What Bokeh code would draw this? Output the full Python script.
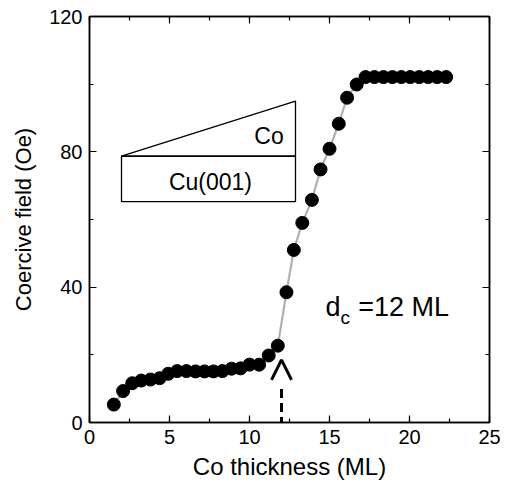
from bokeh.plotting import figure
from bokeh.models import (LinearAxis, SingleIntervalTicker, Range1d, Label, Arrow, OpenHead,
                          CustomJSTickFormatter)
from bokeh.embed import file_html
from bokeh.resources import INLINE

# ---- data ----
thickness = [1.52, 2.10, 2.67, 3.23, 3.81, 4.38, 4.92, 5.48, 6.06, 6.63, 7.19, 7.75,
             8.31, 8.88, 9.44, 10.0, 10.6, 11.2, 11.77, 12.31, 12.77, 13.3, 13.9,
             14.44, 15.0, 15.58, 16.1, 16.7, 17.25, 17.81, 18.37, 18.93, 19.49,
             20.05, 20.61, 21.17, 21.73, 22.29]
coercive = [5.3, 9.3, 11.6, 12.4, 12.7, 13.1, 14.4, 15.2, 15.2, 15.1, 15.1, 15.1,
            15.2, 15.9, 16.0, 17.1, 17.1, 19.8, 22.7, 38.5, 51.0, 59.0, 65.8,
            74.8, 80.9, 88.3, 96.0, 99.9, 102.1, 102.1, 102.1, 102.1, 102.1,
            102.1, 102.1, 102.1, 102.1, 102.1]
d_c = 12

# inset sketch (wedge of Co on Cu(001)) in data units
cu_box = dict(left=2.0, right=12.875, bottom=65.3, top=78.7)
co_wedge_x = [2.0, 12.875, 12.875]
co_wedge_y = [78.7, 95.0, 78.7]

FONT = "Liberation Sans"

p = figure(width=507, height=485, output_backend="svg", toolbar_location=None,
           x_range=Range1d(0, 25), y_range=Range1d(0, 120),
           min_border_left=89, min_border_right=18, min_border_top=16,
           min_border_bottom=63)
p.xgrid.visible = False
p.ygrid.visible = False
p.outline_line_color = "black"
p.outline_line_width = 1.5
p.background_fill_color = "white"
p.border_fill_color = "white"

xt = SingleIntervalTicker(interval=5, num_minor_ticks=2)
yt = SingleIntervalTicker(interval=40, num_minor_ticks=2)
p.xaxis.ticker = xt
p.yaxis.ticker = yt

for ax in (p.xaxis[0], p.yaxis[0]):
    ax.major_tick_in = 7
    ax.major_tick_out = 0
    ax.minor_tick_in = 4
    ax.minor_tick_out = 0
    ax.axis_line_width = 1.5
    ax.axis_line_color = "black"
    ax.major_tick_line_width = 1.2
    ax.minor_tick_line_width = 1.2
    ax.major_label_text_font = FONT
    ax.major_label_text_font_size = "20px"
    ax.major_label_text_color = "black"
    ax.axis_label_text_font = FONT
    ax.axis_label_text_font_style = "normal"
    ax.axis_label_text_color = "black"
    ax.major_label_standoff = 7

p.xaxis.axis_label = "Co thickness (ML)"
p.yaxis.axis_label = "Coercive field (Oe)"
p.xaxis.axis_label_text_font_size = "24px"
p.yaxis.axis_label_text_font_size = "22px"
p.xaxis.axis_label_standoff = 6
p.yaxis.axis_label_standoff = 10

blank = CustomJSTickFormatter(code="return ''")
for loc, tk in (("above", xt), ("right", yt)):
    ax = LinearAxis(ticker=tk, formatter=blank)
    ax.major_tick_in = 7
    ax.major_tick_out = 0
    ax.minor_tick_in = 4
    ax.minor_tick_out = 0
    ax.axis_line_width = 1.5
    ax.axis_line_color = "black"
    ax.major_tick_line_width = 1.2
    ax.minor_tick_line_width = 1.2
    ax.major_label_standoff = 0
    p.add_layout(ax, loc)

# connecting line and markers
p.line(thickness, coercive, line_color="#b0b0b0", line_width=2.2)
p.scatter(thickness, coercive, size=13, marker="circle",
          fill_color="black", line_color="black")

# inset sketch
p.quad(left=[cu_box["left"]], right=[cu_box["right"]],
       bottom=[cu_box["bottom"]], top=[cu_box["top"]],
       fill_color=None, line_color="black", line_width=1.3)
p.patch(co_wedge_x, co_wedge_y, fill_color=None, line_color="black", line_width=1.3)
p.add_layout(Label(x=12.14, y=84.8, text="Co", text_align="right", text_color="black",
                   text_baseline="middle", text_font=FONT, text_font_size="23px"))
p.add_layout(Label(x=7.56, y=71.2, text="Cu(001)", text_align="center", text_color="black",
                   text_baseline="middle", text_font=FONT, text_font_size="23px"))

# critical thickness annotation
p.add_layout(Label(x=14.75, y=34.0, text="d", text_baseline="middle", text_color="black",
                   text_font=FONT, text_font_size="27px"))
p.add_layout(Label(x=15.69, y=31.1, text="c", text_baseline="middle", text_color="black",
                   text_font=FONT, text_font_size="19px"))
p.add_layout(Label(x=16.8, y=34.0, text="=%d ML" % d_c, text_baseline="middle",
                   text_color="black", text_font=FONT, text_font_size="27px"))

# dashed arrow at d_c
p.line([d_c, d_c], [-1, 10.4], line_color="black", line_width=3, line_dash="9 5")
p.add_layout(Arrow(x_start=d_c, y_start=10.4, x_end=d_c, y_end=18.5,
                   line_alpha=0,
                   end=OpenHead(size=20, line_width=3, line_color="black")))

open("out.html", "w").write(file_html(p, INLINE))
